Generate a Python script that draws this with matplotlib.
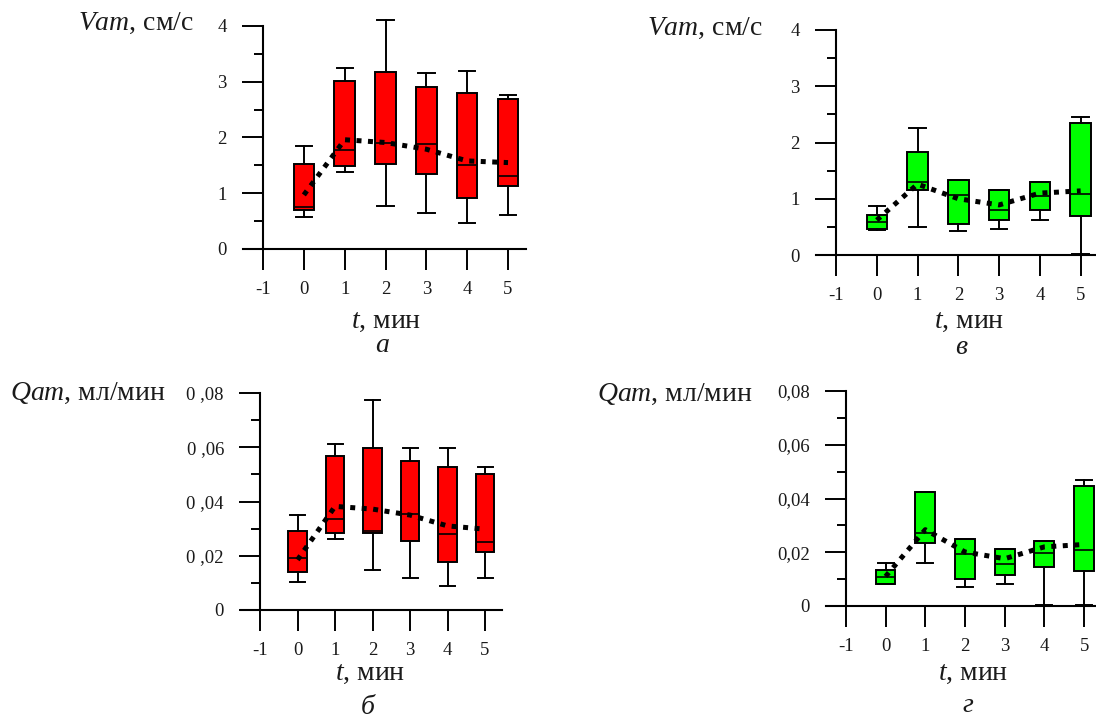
import matplotlib
matplotlib.use('Agg')
import matplotlib.pyplot as plt

W, H = 1096, 722

plt.rcParams['font.family'] = ['Liberation Serif', 'DejaVu Serif']
plt.rcParams['mathtext.fontset'] = 'custom'
plt.rcParams['mathtext.it'] = 'Liberation Serif:italic'
plt.rcParams['mathtext.rm'] = 'Liberation Serif'
plt.rcParams['axes.unicode_minus'] = False

t_pos = [0, 1, 2, 3, 4, 5]
x_ticks = [-1, 0, 1, 2, 3, 4, 5]
x_labels = ['-1', '0', '1', '2', '3', '4', '5']

# panel a: Vam, red
a_q1 = [0.70, 1.49, 1.53, 1.35, 0.91, 1.13]
a_med = [0.76, 1.77, 1.90, 1.89, 1.50, 1.31]
a_q3 = [1.52, 3.01, 3.18, 2.90, 2.79, 2.69]
a_lo = [0.57, 1.39, 0.78, 0.64, 0.47, 0.61]
a_hi = [1.84, 3.25, 4.10, 3.15, 3.19, 2.76]
a_mean = [0.97, 1.96, 1.91, 1.79, 1.58, 1.55]

# panel v: Vam, green
v_q1 = [0.46, 1.16, 0.56, 0.62, 0.80, 0.69]
v_med = [0.59, 1.29, 1.07, 0.80, 1.05, 1.08]
v_q3 = [0.71, 1.83, 1.33, 1.16, 1.30, 2.35]
v_lo = [0.45, 0.49, 0.43, 0.46, 0.63, 0.02]
v_hi = [0.88, 2.25, 1.33, 1.16, 1.30, 2.45]
v_mean = [0.62, 1.26, 1.00, 0.89, 1.10, 1.14]

# panel b: Qam, red
b_q1 = [0.0139, 0.0283, 0.0283, 0.0255, 0.0176, 0.0212]
b_med = [0.0190, 0.0336, 0.0290, 0.0353, 0.0279, 0.0249]
b_q3 = [0.0292, 0.0569, 0.0597, 0.0548, 0.0526, 0.0502]
b_lo = [0.0103, 0.0263, 0.0148, 0.0117, 0.0089, 0.0117]
b_hi = [0.0351, 0.0613, 0.0773, 0.0597, 0.0597, 0.0526]
b_mean = [0.0185, 0.0382, 0.0372, 0.0350, 0.0310, 0.0298]

# panel g: Qam, green
g_q1 = [0.0083, 0.0234, 0.0100, 0.0117, 0.0145, 0.0131]
g_med = [0.0108, 0.0270, 0.0195, 0.0158, 0.0197, 0.0207]
g_q3 = [0.0133, 0.0424, 0.0248, 0.0211, 0.0242, 0.0448]
g_lo = [0.0083, 0.0161, 0.0071, 0.0081, 0.0005, 0.0005]
g_hi = [0.0161, 0.0424, 0.0248, 0.0211, 0.0242, 0.0470]
g_mean = [0.0110, 0.0284, 0.0201, 0.0176, 0.0220, 0.0229]

v_ticks = [0, 1, 2, 3, 4]
v_tick_labels = ['0', '1', '2', '3', '4']
v_minor = [0.5, 1.5, 2.5, 3.5]
q_ticks = [0, 0.02, 0.04, 0.06, 0.08]
q_tick_labels_b = ['0', '0 ,02', '0 ,04', '0 ,06', '0 ,08']
q_tick_labels_g = ['0', '0,02', '0,04', '0,06', '0,08']
q_minor = [0.01, 0.03, 0.05, 0.07]

RED = '#ff0000'
GREEN = '#00ff00'
TXT = '#1a1a1a'


def px_rect(x0, x1, y_bottom, y_top):
    return [x0 / W, 1 - y_bottom / H, (x1 - x0) / W, (y_bottom - y_top) / H]


def draw_panel(fig, rect, q1, med, q3, lo, hi, mean, color, ymax, yticks, ylabels, yminor):
    ax = fig.add_axes(rect)
    stats = []
    for i in range(len(t_pos)):
        stats.append({'q1': q1[i], 'med': med[i], 'q3': q3[i],
                      'whislo': lo[i], 'whishi': hi[i], 'fliers': []})
    parts = ax.bxp(stats, positions=t_pos, widths=0.5, capwidths=0.4,
                   patch_artist=True, showfliers=False, manage_ticks=False,
                   boxprops=dict(facecolor=color, edgecolor='black', linewidth=1.4),
                   whiskerprops=dict(color='black', linewidth=1.4),
                   capprops=dict(color='black', linewidth=1.4),
                   medianprops=dict(color='black', linewidth=1.2))
    for key in ['whiskers', 'caps', 'boxes', 'medians']:
        for art in parts[key]:
            art.set_clip_on(False)
    ax.plot(t_pos, mean, linestyle=(0, (1, 1.3)), color='black', linewidth=3.6,
            zorder=5, clip_on=False)

    ax.set_xlim(-1.5, 5.45)
    ax.set_ylim(0, ymax)
    ax.spines['top'].set_visible(False)
    ax.spines['right'].set_visible(False)
    ax.spines['left'].set_position(('data', -1))
    ax.spines['left'].set_linewidth(1.5)
    ax.spines['bottom'].set_linewidth(1.5)
    ax.set_xticks(x_ticks)
    ax.set_xticklabels(x_labels)
    ax.set_yticks(yticks)
    ax.set_yticklabels(ylabels)
    ax.set_yticks(yminor, minor=True)
    ax.tick_params(axis='both', which='major', direction='out', length=15,
                   width=1.4, labelsize=13.5, colors='black', labelcolor=TXT)
    ax.tick_params(axis='x', which='major', pad=8)
    ax.tick_params(axis='y', which='major', pad=11)
    ax.tick_params(axis='y', which='minor', direction='out', length=6.5, width=1.4)
    ax.patch.set_alpha(0)
    return ax


fig = plt.figure(figsize=(W / 100, H / 100), dpi=100)

draw_panel(fig, px_rect(242.6, 526.4, 249, 26), a_q1, a_med, a_q3, a_lo, a_hi, a_mean,
           RED, 4, v_ticks, v_tick_labels, v_minor)
draw_panel(fig, px_rect(815.6, 1099, 255, 30), v_q1, v_med, v_q3, v_lo, v_hi, v_mean,
           GREEN, 4, v_ticks, v_tick_labels, v_minor)
draw_panel(fig, px_rect(241.3, 501.9, 610, 393), b_q1, b_med, b_q3, b_lo, b_hi, b_mean,
           RED, 0.08, q_ticks, q_tick_labels_b, q_minor)
draw_panel(fig, px_rect(826, 1102, 606, 391), g_q1, g_med, g_q3, g_lo, g_hi, g_mean,
           GREEN, 0.08, q_ticks, q_tick_labels_g, q_minor)

# axis titles and panel letters
fig.text(78 / W, 1 - 23 / H, r'$Vam$, см/с', fontsize=20, color=TXT, ha='left', va='center')
fig.text(647 / W, 1 - 28 / H, r'$Vam$, см/с', fontsize=20, color=TXT, ha='left', va='center')
fig.text(10 / W, 1 - 393 / H, r'$Qam$, мл/мин', fontsize=20, color=TXT, ha='left', va='center')
fig.text(597 / W, 1 - 394 / H, r'$Qam$, мл/мин', fontsize=20, color=TXT, ha='left', va='center')

fig.text(386 / W, 1 - 322 / H, r'$t$, мин', fontsize=20, color=TXT, ha='center', va='center')
fig.text(969 / W, 1 - 322 / H, r'$t$, мин', fontsize=20, color=TXT, ha='center', va='center')
fig.text(370 / W, 1 - 673 / H, r'$t$, мин', fontsize=20, color=TXT, ha='center', va='center')
fig.text(973 / W, 1 - 673 / H, r'$t$, мин', fontsize=20, color=TXT, ha='center', va='center')

fig.text(382 / W, 1 - 345 / H, 'а', fontsize=20, style='italic', color=TXT, ha='center', va='center')
fig.text(961 / W, 1 - 347 / H, 'в', fontsize=20, style='italic', color=TXT, ha='center', va='center')
fig.text(368 / W, 1 - 708 / H, 'б', fontsize=20, style='italic', color=TXT, ha='center', va='center')
fig.text(968 / W, 1 - 705 / H, 'г', fontsize=20, style='italic', color=TXT, ha='center', va='center')

fig.savefig('out.png', dpi=100)
